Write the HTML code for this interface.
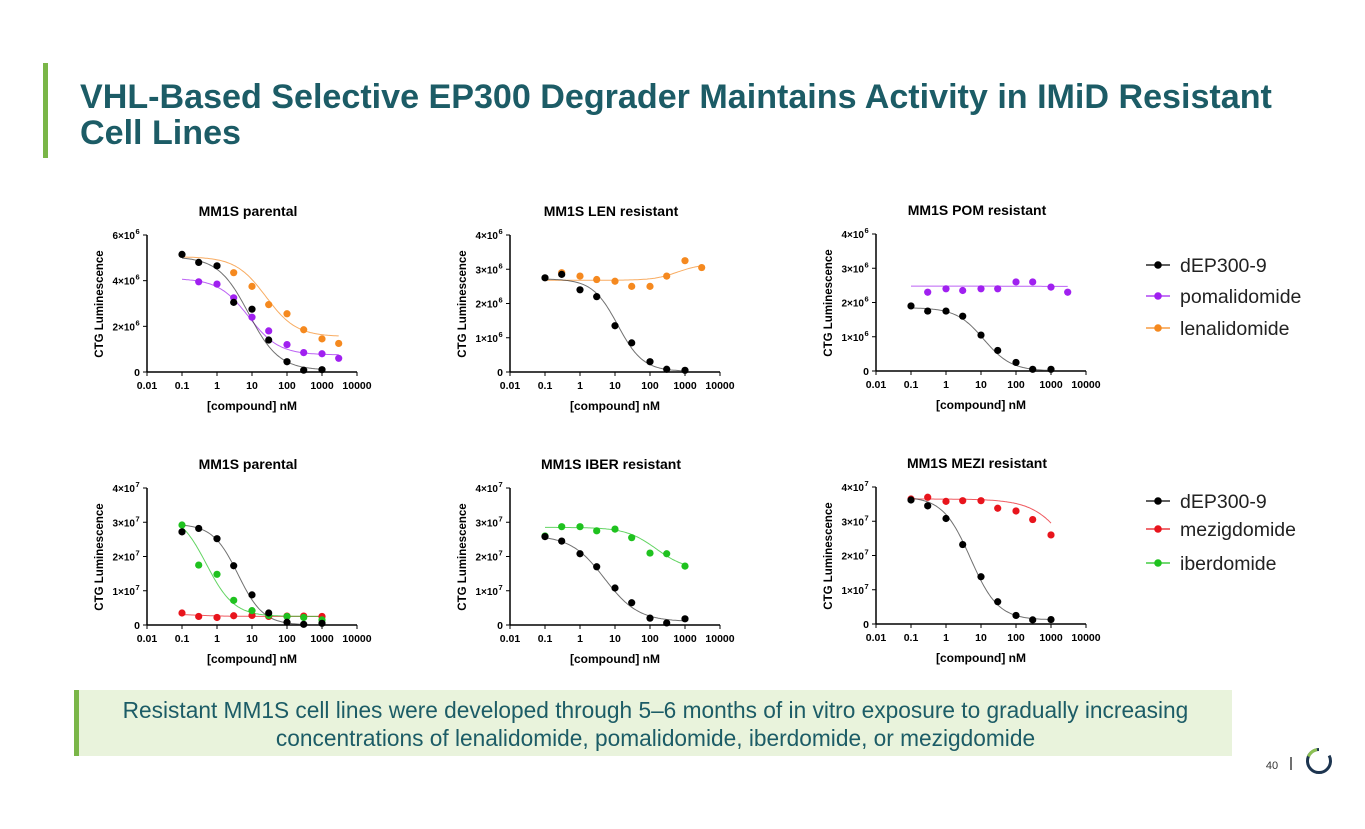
<!DOCTYPE html>
<html><head><meta charset="utf-8">
<style>
body{margin:0;width:1365px;height:829px;background:#fff;font-family:"Liberation Sans",Arial,sans-serif;overflow:hidden;position:relative}
.title{position:absolute;left:80px;top:79px;font-size:34.1px;font-weight:bold;color:#1c5c66;line-height:36px}
.bar{position:absolute;left:43px;top:63px;width:5px;height:95px;background:#7ab648}
.callout{position:absolute;left:74px;top:690px;width:1158px;height:66px;background:#e9f3dc;border-left:5px solid #7ab648;box-sizing:border-box;color:#1c5c66;font-size:22.7px;text-align:center;line-height:28px;padding-top:6px;white-space:nowrap}
svg{position:absolute;left:0;top:0}
</style></head><body>
<div class="bar"></div>
<div class="title">VHL-Based Selective EP300 Degrader Maintains Activity in IMiD Resistant<br>Cell Lines</div>
<div class="callout">Resistant MM1S cell lines were developed through 5–6 months of in vitro exposure to gradually increasing<br>concentrations of lenalidomide, pomalidomide, iberdomide, or mezigdomide</div>
<svg id="chart" width="1365" height="829"></svg>
<script>
// concentrations (nM)
const xs = [0.1,0.3,1,3,10,30,100,300,1000,3000];
// Panel 1: MM1S parental (x1e6)
const p1Black = [5.15,4.8,4.65,3.05,2.75,1.4,0.45,0.08,0.1,null];
const p1Purple = [null,3.95,3.85,3.25,2.4,1.8,1.2,0.85,0.8,0.6];
const p1Orange = [null,null,null,4.35,3.75,2.95,2.55,1.85,1.45,1.25];
// Panel 2: LEN resistant (x1e6)
const p2Black = [2.75,2.85,2.4,2.2,1.35,0.85,0.3,0.08,0.05,null];
const p2Orange = [null,2.9,2.8,2.7,2.65,2.5,2.5,2.8,3.25,3.05];
// Panel 3: POM resistant (x1e6)
const p3Black = [1.9,1.75,1.75,1.6,1.05,0.6,0.25,0.05,0.05,null];
const p3Purple = [null,2.3,2.4,2.35,2.4,2.4,2.6,2.6,2.45,2.3];
// Panel 4: parental (x1e7)
const p4Black = [2.72,2.82,2.52,1.73,0.88,0.35,0.08,0.02,0.05,null];
const p4Green = [2.92,1.75,1.48,0.72,0.42,0.28,0.25,0.22,0.15,null];
const p4Red = [0.35,0.25,0.22,0.27,0.28,0.25,0.26,0.26,0.25,null];
// Panel 5: IBER resistant (x1e7)
const p5Black = [2.58,2.45,2.08,1.7,1.08,0.65,0.2,0.06,0.18,null];
const p5Green = [2.6,2.87,2.87,2.75,2.8,2.55,2.1,2.08,1.72,null];
// Panel 6: MEZI resistant (x1e7)
const p6Black = [3.62,3.45,3.08,2.32,1.38,0.65,0.25,0.12,0.13,null];
const p6Red = [3.65,3.7,3.58,3.6,3.6,3.38,3.3,3.05,2.6,null];
const xTicks = ["0.01","0.1","1","10","100","1000","10000"];

const C = {black:"#000", purple:"#a020f0", orange:"#f5891f", green:"#1fc21f", red:"#e8141c"};
const NS="http://www.w3.org/2000/svg";
const svg=document.getElementById('chart');
function el(t,a,p){const e=document.createElementNS(NS,t);for(const k in a)e.setAttribute(k,a[k]);(p||svg).appendChild(e);return e;}
function txt(x,y,s,a,p){const e=el('text',Object.assign({x:x,y:y,'font-family':'Liberation Sans, Arial, sans-serif'},a),p);e.textContent=s;return e;}
function fourPL(x,top,bot,ec,h){return bot+(top-bot)/(1+Math.pow(x/ec,h));}

function panel(name,ox,oy,title,yMax,yTicks,expo,series,fits){
  const g=el('g',{});
  
  
  const W=210,H=137;
  const xS=v=>ox+(Math.log10(v)+2)/6*W;
  const yS=v=>oy-v/yMax*H;
  const t=txt(ox+101,oy-156,title,{'font-size':14,'font-weight':'bold','text-anchor':'middle'},g);
  
  el('line',{x1:ox,y1:oy-H,x2:ox,y2:oy,stroke:'#000','stroke-width':1.5},g);
  el('line',{x1:ox,y1:oy,x2:ox+W,y2:oy,stroke:'#000','stroke-width':1.5},g);
  xTicks.forEach((s,i)=>{const x=xS(Math.pow(10,i-2));el('line',{x1:x,y1:oy,x2:x,y2:oy+4,stroke:'#000'},g);
    txt(x,oy+17,s,{'font-size':10.5,'font-weight':'bold','text-anchor':'middle'},g);});
  yTicks.forEach(v=>{const y=yS(v);el('line',{x1:ox-4,y1:y,x2:ox,y2:y,stroke:'#000'},g);
    if(v===0){txt(ox-7,y+4,'0',{'font-size':10.5,'font-weight':'bold','text-anchor':'end'},g);}
    else{txt(ox-12,y+4,v+'×10',{'font-size':10,'font-weight':'bold','text-anchor':'end'},g);
      txt(ox-11.5,y-1,expo,{'font-size':7.5,'font-weight':'bold','text-anchor':'start'},g);}});
  const yl=txt(0,0,'CTG Luminescence',{'font-size':11.5,'font-weight':'bold','text-anchor':'middle',transform:`translate(${ox-44},${oy-68}) rotate(-90)`},g);
  
  const xl=txt(ox+105,oy+38,'[compound] nM',{'font-size':12,'font-weight':'bold','text-anchor':'middle'},g);
  
  fits.forEach(f=>{let d='';for(let i=0;i<=100;i++){const lx=Math.log10(f.from)+(Math.log10(f.to)-Math.log10(f.from))*i/100;const x=Math.pow(10,lx);
    d+=(i?'L':'M')+xS(x).toFixed(1)+','+yS(fourPL(x,f.top,f.bot,f.ec,f.h)).toFixed(1);}
    const p=el('path',{d:d,fill:'none',stroke:f.c,'stroke-width':1,opacity:0.7},g);
    });
  series.forEach(s=>{s.v.forEach((v,i)=>{if(v==null)return;
    const c=el('circle',{cx:xS(xs[i]),cy:yS(v),r:3.6,fill:s.c},g);
    });});
}
panel('panel-mm1s-parental-1',147,372,'MM1S parental',6,[0,2,4,6],'6',
 [{v:p1Orange,c:C.orange},{v:p1Purple,c:C.purple},{v:p1Black,c:C.black}],
 [{top:5.05,bot:1.55,ec:25,h:1,c:C.orange,from:0.1,to:3000},{top:4.1,bot:0.75,ec:8,h:1,c:C.purple,from:0.1,to:3000},{top:5.05,bot:0.08,ec:8,h:1,c:'#333',from:0.1,to:1000}]);
panel('panel-len-resistant',510,372,'MM1S LEN resistant',4,[0,1,2,3,4],'6',
 [{v:p2Orange,c:C.orange},{v:p2Black,c:C.black}],
 [{top:3.15,bot:2.68,ec:600,h:-1.3,c:C.orange,from:0.1,to:3000},{top:2.72,bot:0.02,ec:12,h:1.2,c:'#333',from:0.1,to:1000}]);
panel('panel-pom-resistant',876,371,'MM1S POM resistant',4,[0,1,2,3,4],'6',
 [{v:p3Purple,c:C.purple},{v:p3Black,c:C.black}],
 [{top:2.48,bot:2.47,ec:100,h:1,c:C.purple,from:0.1,to:3000},{top:1.85,bot:0,ec:12,h:1.1,c:'#333',from:0.1,to:1000}]);
panel('panel-mm1s-parental-2',147,625,'MM1S parental',4,[0,1,2,3,4],'7',
 [{v:p4Red,c:C.red},{v:p4Green,c:C.green},{v:p4Black,c:C.black}],
 [{top:0.32,bot:0.25,ec:0.3,h:1,c:C.red,from:0.1,to:1000},{top:3.3,bot:0.25,ec:0.5,h:1.1,c:C.green,from:0.1,to:1000},{top:2.95,bot:0,ec:4,h:1.2,c:'#333',from:0.1,to:1000}]);
panel('panel-iber-resistant',510,625,'MM1S IBER resistant',4,[0,1,2,3,4],'7',
 [{v:p5Green,c:C.green},{v:p5Black,c:C.black}],
 [{top:2.85,bot:1.6,ec:150,h:1,c:C.green,from:0.1,to:1000},{top:2.62,bot:0.1,ec:5,h:0.9,c:'#333',from:0.1,to:1000}]);
panel('panel-mezi-resistant',876,624,'MM1S MEZI resistant',4,[0,1,2,3,4],'7',
 [{v:p6Red,c:C.red},{v:p6Black,c:C.black}],
 [{top:3.65,bot:0,ec:6000,h:0.8,c:C.red,from:0.1,to:1000},{top:3.72,bot:0.12,ec:5,h:1.1,c:'#333',from:0.1,to:1000}]);

function legend(name,items,ys){const g=el('g',{});
  items.forEach((it,i)=>{const y=ys[i];const e=el('g',{},g);
    
    el('line',{x1:1146,y1:y,x2:1170,y2:y,stroke:it.c,'stroke-width':1.2},e);
    el('circle',{cx:1158,cy:y,r:3.8,fill:it.c},e);
    txt(1180,y+7,it.n,{'font-size':19.5,fill:'#222'},e);});}
legend('legend-top',[{n:'dEP300-9',c:C.black},{n:'pomalidomide',c:C.purple},{n:'lenalidomide',c:C.orange}],[265,296,328]);
legend('legend-bottom',[{n:'dEP300-9',c:C.black},{n:'mezigdomide',c:C.red},{n:'iberdomide',c:C.green}],[501,529,563]);

const pn=txt(1272,769,'40',{'font-size':11,fill:'#333','text-anchor':'middle'});

el('line',{x1:1291,y1:757,x2:1291,y2:770,stroke:'#222','stroke-width':1.3});
const lg=el('g',{});
el('circle',{cx:1319,cy:761,r:11.5,fill:'none',stroke:'#1d3550','stroke-width':3,'stroke-dasharray':'60 12.3','transform':'rotate(-90 1319 761)','stroke-dashoffset':'-12.3'},lg);
el('path',{d:'M1308.5,756.5 A11.5,11.5 0 0 1 1317,749.6',fill:'none',stroke:'#8cc152','stroke-width':3},lg);
</script>
</body></html>
